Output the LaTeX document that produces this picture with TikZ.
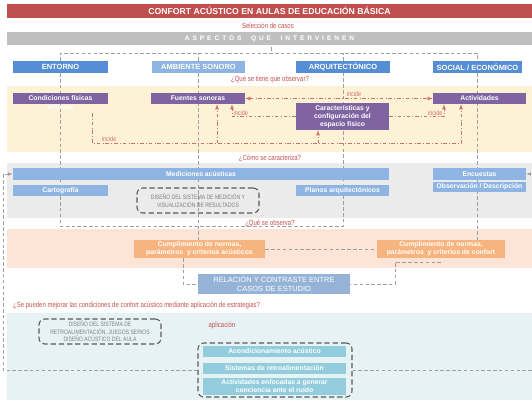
\documentclass[tikz,border=0pt]{standalone}
\usepackage{fontspec}
\setmainfont{Liberation Sans}
\newfontfamily\angosta[FakeStretch=0.8]{Liberation Sans}
\usetikzlibrary{calc}

\definecolor{rojo}{HTML}{C0504D}
\definecolor{rojotexto}{HTML}{C4524F}
\definecolor{incidecol}{HTML}{CF706D}
\definecolor{grisbarra}{HTML}{BFBFBF}
\definecolor{azul}{HTML}{558ED5}
\definecolor{azulclaro}{HTML}{8EB4E3}
\definecolor{morado}{HTML}{8064A2}
\definecolor{amarillo}{HTML}{FDF1D6}
\definecolor{grisbanda}{HTML}{EBEBEB}
\definecolor{melocoton}{HTML}{FCE4D6}
\definecolor{naranja}{HTML}{F8B47E}
\definecolor{azulgris}{HTML}{95B3D7}
\definecolor{celestebanda}{HTML}{E7F2F5}
\definecolor{turquesa}{HTML}{93CDDD}
\definecolor{grisborde}{HTML}{595959}
\definecolor{gristexto}{HTML}{7F7F7F}

\pgfdeclarelayer{fondo}
\pgfdeclarelayer{guias}
\pgfsetlayers{fondo,guias,main}

\tikzset{
  caja/.style={inner sep=0pt, text=white, align=center,
    font=\bfseries\fontsize{5.8}{6.9}\selectfont},
  cabecera/.style={caja, fill=azul, minimum height=0.36cm,
    font=\bfseries\fontsize{6.4}{7}\selectfont},
  cajamorada/.style={caja, fill=morado, minimum height=0.33cm},
  cajaceleste/.style={caja, fill=azulclaro, minimum height=0.33cm},
  cajanaranja/.style={caja, fill=naranja, minimum height=0.54cm},
  cajaturquesa/.style={caja, fill=turquesa, minimum height=0.33cm},
  pregunta/.style={inner sep=0pt, text=rojotexto,
    font=\angosta\fontsize{6.4}{7}\selectfont},
  nota/.style={inner sep=1.2pt, text=incidecol,
    font=\angosta\fontsize{5.8}{6}\selectfont},
  propuesta/.style={draw=grisborde, line width=0.9pt, dash pattern=on 4.5pt off 2.5pt,
    rounded corners=5pt, inner sep=0pt, text=gristexto, align=center,
    font=\angosta\fontsize{5.4}{6.4}\selectfont},
  guia/.style={draw=gray!75, densely dashed, line width=0.4pt},
  incide/.style={draw=incidecol, dash dot, line width=0.5pt, -latex}
}

\begin{document}
\begin{tikzpicture}[x=0.03cm,y=-0.03cm]
\useasboundingbox (0,0) rectangle (532,406);

% bandas
\begin{pgfonlayer}{fondo}
\fill[white] (0,0) rectangle (532,406);
\fill[amarillo] (7,86) rectangle (532,152);
\fill[grisbanda] (7,163) rectangle (532,218);
\fill[melocoton] (7,229) rectangle (532,268);
\fill[celestebanda] (7,313) rectangle (532,400);
\end{pgfonlayer}

% cabecera
\node[caja, fill=rojo, minimum width=15.75cm, minimum height=0.42cm,
  font=\bfseries\fontsize{7.4}{8}\selectfont] (titulo) at (269.5,11)
  {CONFORT ACÚSTICO EN AULAS DE EDUCACIÓN BÁSICA};
\node[pregunta] (seleccion) at (268,26) {Selección de casos};
\node[caja, fill=grisbarra, minimum width=15.75cm, minimum height=0.39cm,
  font=\bfseries\fontsize{5.6}{6}\addfontfeature{LetterSpace=45}\selectfont]
  (aspectos) at (269.5,38.5) {ASPECTOS\hspace{4pt} QUE\hspace{4pt} INTERVIENEN};

\node[cabecera, minimum width=2.85cm] (entorno) at (60.5,67) {ENTORNO};
\node[cabecera, fill=azulclaro, minimum width=2.79cm] (ambiente) at (198.5,67) {AMBIENTE SONORO};
\node[cabecera, minimum width=2.82cm] (arquitectonico) at (343,67) {ARQUITECTÓNICO};
\node[cabecera, minimum width=2.67cm] (social) at (477.5,67) {SOCIAL / ECONÓMICO};

% que se observa
\node[pregunta] (observar) at (270,80) {¿Qué se tiene que observar?};
\node[cajamorada, minimum width=2.85cm] (condiciones) at (60.5,98.5) {Condiciones físicas};
\node[caja] (urbanas) at (60.5,107) {urbanas};
\node[cajamorada, minimum width=2.82cm] (fuentes) at (198,98.5) {Fuentes sonoras};
\node[cajamorada, minimum width=2.79cm] (actividades) at (479.5,98.5) {Actividades};
\node[cajamorada, minimum width=2.79cm, minimum height=0.81cm] (caracteristicas)
  at (342.5,116.5) {Características y\\configuración del\\espacio físico};

% como se caracteriza
\node[pregunta] (caracteriza) at (270,158) {¿Cómo se caracteriza?};
\node[cajaceleste, minimum width=11.28cm, minimum height=0.36cm] (mediciones)
  at (201,174) {Mediciones acústicas};
\node[cajaceleste, minimum width=2.85cm] (cartografia) at (60.5,190.5) {Cartografía};
\node[cajaceleste, minimum width=2.79cm] (planos) at (342.5,190.5) {Planos arquitectónicos};
\node[cajaceleste, minimum width=2.79cm, minimum height=0.36cm] (encuestas)
  at (479.5,174) {Encuestas};
\node[cajaceleste, minimum width=2.79cm, minimum height=0.3cm] (observacion)
  at (479.5,186.5) {Observación / Descripción};
\node[propuesta, minimum width=3.66cm, minimum height=0.75cm] (disenomed) at (198,200.5)
  {DISEÑO DEL SISTEMA DE MEDICIÓN Y\\VISUALIZACIÓN DE RESULTADOS};

% que se observa
\node[pregunta] (observa) at (270,223) {¿Qué se observa?};
\node[cajanaranja, minimum width=3.93cm] (normasacus) at (199.5,249)
  {Cumplimiento de normas,\\parámetros~ y criterios acústicos};
\node[cajanaranja, minimum width=3.84cm] (normasconf) at (441,249)
  {Cumplimiento de normas,\\parámetros~ y criterios de confort};
\node[caja, fill=azulgris, minimum width=4.56cm, minimum height=0.6cm,
  font=\fontsize{6.4}{7.4}\selectfont] (relacion) at (274,284)
  {RELACIÓN Y CONTRASTE ENTRE\\CASOS DE ESTUDIO};

% estrategias
\node[pregunta, anchor=west] (mejorar) at (13,306)
  {¿Se pueden mejorar las condiciones de confort acústico mediante aplicación de estrategias?};
\node[propuesta, minimum width=3.66cm, minimum height=0.75cm] (disenoretro) at (100,331.5)
  {DISEÑO DEL SISTEMA DE\\RETROALIMENTACIÓN, JUEGOS SERIOS\\DISEÑO ACÚSTICO DEL AULA};
\node[pregunta] (aplicacion) at (222,326) {aplicación};
\node[propuesta, minimum width=4.62cm, minimum height=1.62cm] (estrategias) at (275,370) {};
\node[cajaturquesa, minimum width=4.29cm] (acondicionamiento) at (274.5,351.5)
  {Acondicionamiento acústico};
\node[cajaturquesa, minimum width=4.29cm] (sistemas) at (274.5,368.5)
  {Sistemas de retroalimentación};
\node[cajaturquesa, minimum width=4.29cm, minimum height=0.51cm] (conciencia) at (274.5,386.5)
  {Actividades enfocadas a generar\\conciencia ante el ruido};

% lineas de columnas
\begin{pgfonlayer}{guias}
\draw[guia] (entorno.north) -- ++(0,-8) -| (social.north);
\draw[guia] (ambiente.north) -- ++(0,-8);
\draw[guia] (arquitectonico.north) -- ++(0,-8);
\draw[guia] ($(aspectos.south)+(1.5,2)$) -- ++(0,6);
\draw[guia] (entorno.south) -- ++(0,153) -| (arquitectonico.south);
\draw[guia] (ambiente.south) -- (ambiente.south |- normasacus.north);
\draw[guia] (social.south) -- (social.south |- normasconf.north);
\draw[guia] (normasacus.east) -- (normasconf.west);
\draw[guia] ($(normasacus.south)+(-16.5,0)$) |- (relacion.west);
\draw[guia] ($(normasconf.south)+(0,4)$) -- ++(-46,0) |- (relacion.east);
\draw[guia, -latex] (estrategias.west) -| (3,174) -- (mediciones.west);
\draw[guia, -latex] (estrategias.east) -| (534,174) -- (encuestas.east);
\end{pgfonlayer}

% incidencias
\draw[incide, latex-latex] (fuentes.east) -- (actividades.west)
  node[nota, pos=0.58, above] {incide};
\draw[incide] (caracteristicas.west) -| ($(fuentes.south)+(34,0)$)
  node[nota, pos=0.66, right] {incide};
\draw[incide] (caracteristicas.east) -| ($(actividades.south)+(-35.5,0)$)
  node[nota, pos=0.66, left] {incide};
\coordinate (urb) at (92,113);
\draw[incide] (urb) -- ++(0,30) -| ($(actividades.south)+(-18.5,0)$);
\draw[incide] ($(fuentes.south)+(19,39)$) -- ($(fuentes.south)+(19,0)$);
\draw[incide] ($(caracteristicas.south)+(-24.5,13)$) -- ($(caracteristicas.south)+(-24.5,0)$);
\node[nota] (incidebase) at (109,139) {incide};

\end{tikzpicture}
\end{document}
